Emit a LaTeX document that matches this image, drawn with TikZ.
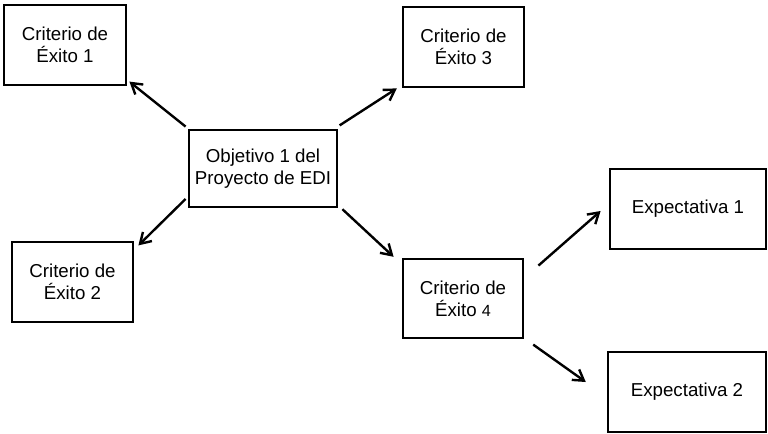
\documentclass[tikz,border=0pt]{standalone}
\usepackage{fontspec}
\setmainfont{Liberation Sans}
\usepackage{tikz}
\usetikzlibrary{arrows.meta,positioning}

\begin{document}
\begin{tikzpicture}[every node/.style={font=\fontsize{13.3}{15.8}\selectfont},
  box/.style={draw=black, line width=2pt, align=center, inner sep=0pt,
    minimum height=2cm},
  arr/.style={line width=1.7pt, -{Straight Barb[length=0.26cm,width=0.32cm,line width=1.7pt]}}]

\useasboundingbox (0,0) rectangle (19.2,-10.825);

%% Objective
\node[box, minimum width=3.7cm, minimum height=1.925cm] (obj) at (6.575,-4.2125)
  {Objetivo 1 del\\Proyecto de EDI};

%% Success criteria
\node[box, minimum width=3.05cm] (c1) at (1.625,-1.125) {Criterio de\\Éxito 1};
\node[box, minimum width=3.025cm] (c3) at (11.5875,-1.175) {Criterio de\\Éxito 3};
\node[box, minimum width=3.025cm] (c2) at (1.8125,-7.05) {Criterio de\\Éxito 2};
\node[box, minimum width=3.0cm, minimum height=1.975cm] (c4) at (11.575,-7.4625)
  {Criterio de\\Éxito {\fontsize{11.5}{15.8}\selectfont 4}};

%% Expectations
\node[box, minimum width=3.9cm] (e1) at (17.2,-5.225) {Expectativa 1};
\node[box, minimum width=3.95cm] (e2) at (17.175,-9.8) {Expectativa 2};

%% Arrows
\draw[arr] ([xshift=-0.05cm,yshift=0.05cm]obj.north west) -- ([xshift=0.05cm,yshift=0.12cm]c1.south east);
\draw[arr] ([xshift=0.03cm,yshift=0.08cm]obj.north east) -- ([xshift=-0.12cm]c3.south west);
\draw[arr] ([xshift=-0.05cm]obj.202) -- ([xshift=0.1cm,yshift=-0.12cm]c2.north east);
\draw[arr] ([xshift=0.1cm,yshift=-0.02cm]obj.south east) -- ([xshift=-0.2cm,yshift=0.02cm]c4.north west);
\draw[arr] ([xshift=0.35cm,yshift=-0.2cm]c4.north east) -- ([xshift=-0.2cm,yshift=-0.05cm]e1.west);
\draw[arr] ([xshift=0.22cm,yshift=-0.13cm]c4.south east) -- ([xshift=-0.52cm,yshift=0.25cm]e2.west);

\end{tikzpicture}
\end{document}
